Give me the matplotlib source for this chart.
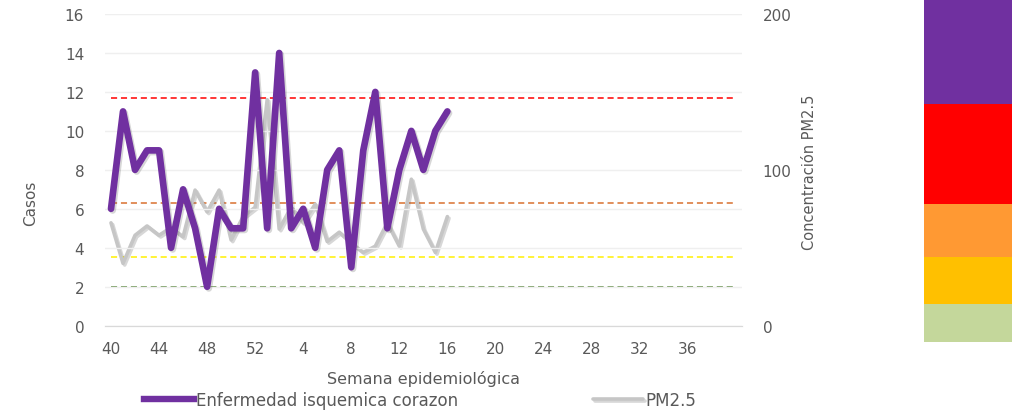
import matplotlib
matplotlib.use("Agg")
import matplotlib.pyplot as plt
import matplotlib.patheffects as pe

plt.rcParams["font.family"] = ["DejaVu Sans"]

# epidemiological weeks 40..52 then 1..40
weeks = list(range(40, 53)) + list(range(1, 41))

# cases (left axis), weeks 40 .. 16
casos = [6, 11, 8, 9, 9, 4, 7, 5, 2, 6, 5, 5, 13,
         5, 14, 5, 6, 4, 8, 9, 3, 9, 12, 5, 8, 10, 8, 10, 11]

# PM2.5 concentration (right axis), weeks 40 .. 16
pm25 = [66, 40, 58, 64, 58, 63, 57, 87, 73, 87, 55, 70, 76,
        145, 62, 76, 66, 78, 54, 60, 53, 47, 51, 66, 51, 94, 62, 47, 70]

# reference thresholds on the PM2.5 axis
thresholds = [25, 44, 79, 146]
threshold_colors = ["#548235", "#FFF000", "#D8702F", "#FF0000"]

# colour scale bar (bottom -> top)
band_sizes = [38, 47, 53, 100, 105]
band_colors = ["#C4D79B", "#FFC000", "#FF9933", "#FF0000", "#7030A0"]

txt = "#595959"

fig = plt.figure(figsize=(10.18, 4.14), dpi=100)
ax = fig.add_axes([105 / 1018, 1 - 326.7 / 414, 636.7 / 1018, 311.7 / 414])
ax2 = ax.twinx()

n = len(weeks)
x_all = list(range(n))

for val, col in zip(thresholds, threshold_colors):
    ax2.plot(x_all, [val] * n, color=col, lw=1.1, dashes=(4, 2.5), zorder=2)

shadow = [pe.SimpleLineShadow(offset=(1.2, -1.2), alpha=0.25, shadow_color="#606060"), pe.Normal()]
ax2.plot(range(len(pm25)), pm25, color="#C6C6C6", lw=2.6, solid_joinstyle="round",
         solid_capstyle="round", path_effects=shadow, zorder=3, label="PM2.5")
ax2.plot([], [], color="#7030A0", lw=4.6, label="Enfermedad isquemica corazon")
ax.set_zorder(ax2.get_zorder() + 1)
ax.patch.set_visible(False)
ax.plot(range(len(casos)), casos, color="#7030A0", lw=4.8, solid_joinstyle="round",
        solid_capstyle="round", path_effects=shadow, zorder=4)

ax.set_xlim(-0.5, n - 0.5)
ax.set_ylim(0, 16)
ax2.set_ylim(0, 200)
ax.set_yticks(range(0, 17, 2))
ax2.set_yticks([0, 100, 200])
ticks = list(range(0, n - 1, 4))[:13]
ax.set_xticks(ticks)
ax.set_xticklabels([str(weeks[i]) for i in ticks])

ax.grid(axis="y", color="#EFEFEF", lw=1)
ax.set_axisbelow(True)
for a in (ax, ax2):
    for s in ("top", "left", "right"):
        a.spines[s].set_visible(False)
    a.spines["bottom"].set_color("#D9D9D9")
    a.tick_params(length=0, colors=txt, labelsize=11)
ax.tick_params(axis="x", pad=11)
ax.tick_params(axis="y", pad=15)
ax2.tick_params(axis="y", pad=15)

ax.set_ylabel("Casos", color=txt, fontsize=11)
ax.yaxis.set_label_coords(-0.105, 0.395)
ax2.set_ylabel("Concentración PM2.5", color=txt, fontsize=10.5)
ax2.yaxis.set_label_coords(1.095, 0.496)
ax.set_xlabel("Semana epidemiológica", color=txt, fontsize=11.5, labelpad=10)

handles, labels = ax2.get_legend_handles_labels()
fig.legend(handles[::-1], labels[::-1], loc="center", bbox_to_anchor=(0.4126, 0.032),
           ncol=2, frameon=False, fontsize=12, labelcolor=txt, handlelength=3.0,
           handletextpad=0.12, columnspacing=8.1)

# colour scale on the right
axb = fig.add_axes([924 / 1018, 1 - 343 / 414, 88 / 1018, 343 / 414])
bottom = 0
for h, c in zip(band_sizes, band_colors):
    axb.bar(0, h, bottom=bottom, width=1, color=c, lw=0)
    bottom += h
axb.set_xlim(-0.5, 0.5)
axb.set_ylim(0, bottom)
axb.axis("off")

fig.savefig("out.png", dpi=100)
